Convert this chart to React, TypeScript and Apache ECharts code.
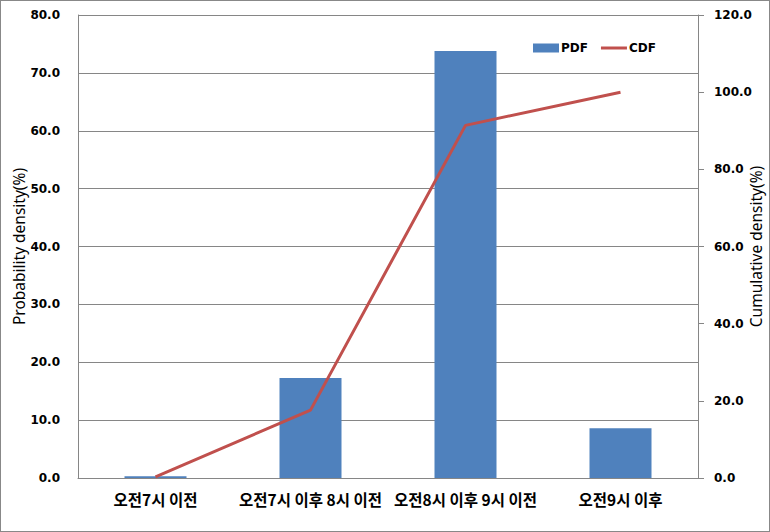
import React, { useEffect, useRef } from "react";
import * as echarts from "echarts";

const categories = ["오전7시 이전", "오전7시 이후 8시 이전", "오전8시 이후 9시 이전", "오전9시 이후"];
const pdfValues = [0.3, 17.3, 73.8, 8.6];
const cdfValues = [0.3, 17.6, 91.4, 100.0];
const leftTicks = { min: 0, max: 80, interval: 10 };
const rightTicks = { min: 0, max: 120, interval: 20 };

const GRAY = "#868686";
const NUM_FONT = "DejaVu Sans";
const KR_FONT = "Noto Sans CJK KR";

export default function App() {
  const ref = useRef<HTMLDivElement>(null);
  useEffect(() => {
    document.body.style.margin = "0";
    const chart = echarts.init(ref.current!, undefined, { renderer: "svg" });
    chart.setOption({
      animation: false,
      backgroundColor: "#ffffff",
      grid: { left: 77, right: 71, top: 14, bottom: 53, containLabel: false, outerBoundsMode: "none" },
      legend: {
        top: 41,
        left: 532,
        padding: 0,
        itemWidth: 26,
        itemHeight: 9,
        itemGap: 13,
        textStyle: { fontFamily: NUM_FONT, fontWeight: "bold", fontSize: 12, color: "#000", padding: [0, 0, 0, -3] },
        data: [
          { name: "PDF", icon: "rect" },
          { name: "CDF", icon: "path://M0,0 L26,0 L26,3 L0,3 Z", itemStyle: { color: "#C0504D" } },
        ],
      },
      xAxis: {
        type: "category",
        data: categories,
        axisLine: { lineStyle: { color: GRAY, width: 1 } },
        axisTick: { show: false },
        axisLabel: {
          interval: 0,
          margin: 13,
          fontFamily: KR_FONT,
          fontWeight: "bold",
          fontSize: 15.5,
          color: "#000",
        },
      },
      yAxis: [
        {
          type: "value",
          min: leftTicks.min,
          max: leftTicks.max,
          interval: leftTicks.interval,
          name: "Probability density(%)",
          nameLocation: "middle",
          nameGap: 51,
          nameMoveOverlap: false,
          nameTextStyle: { fontFamily: "Noto Sans", fontSize: 15.5, color: "#000" },
          axisLine: { show: true, lineStyle: { color: GRAY } },
          axisTick: { show: false },
          splitLine: { show: true, lineStyle: { color: GRAY, width: 1 } },
          axisLabel: {
            margin: 18,
            formatter: (v: number) => v.toFixed(1),
            fontFamily: NUM_FONT,
            fontWeight: "bold",
            fontSize: 12,
            color: "#000",
          },
        },
        {
          type: "value",
          position: "right",
          min: rightTicks.min,
          max: rightTicks.max,
          interval: rightTicks.interval,
          name: "Cumulative density(%)",
          nameLocation: "middle",
          nameGap: 50,
          nameMoveOverlap: false,
          nameRotate: 90,
          nameTextStyle: { fontFamily: "Noto Sans", fontSize: 15.5, color: "#000" },
          axisLine: { show: true, lineStyle: { color: GRAY } },
          axisTick: { show: true, length: 6, lineStyle: { color: GRAY } },
          splitLine: { show: false },
          axisLabel: {
            margin: 16,
            formatter: (v: number) => v.toFixed(1),
            fontFamily: NUM_FONT,
            fontWeight: "bold",
            fontSize: 12,
            color: "#000",
          },
        },
      ],
      series: [
        {
          name: "PDF",
          type: "bar",
          yAxisIndex: 0,
          data: pdfValues,
          barWidth: "40%",
          itemStyle: { color: "#4F81BD" },
        },
        {
          name: "CDF",
          type: "line",
          yAxisIndex: 1,
          data: cdfValues,
          showSymbol: false,
          symbol: "none",
          lineStyle: { color: "#C0504D", width: 3 },
          itemStyle: { color: "#C0504D" },
        },
      ],
    });
    return () => chart.dispose();
  }, []);
  return (
    <div
      ref={ref}
      style={{ width: 770, height: 532, boxSizing: "border-box", border: "1px solid #888", position: "absolute", left: 0, top: 0 }}
    />
  );
}
